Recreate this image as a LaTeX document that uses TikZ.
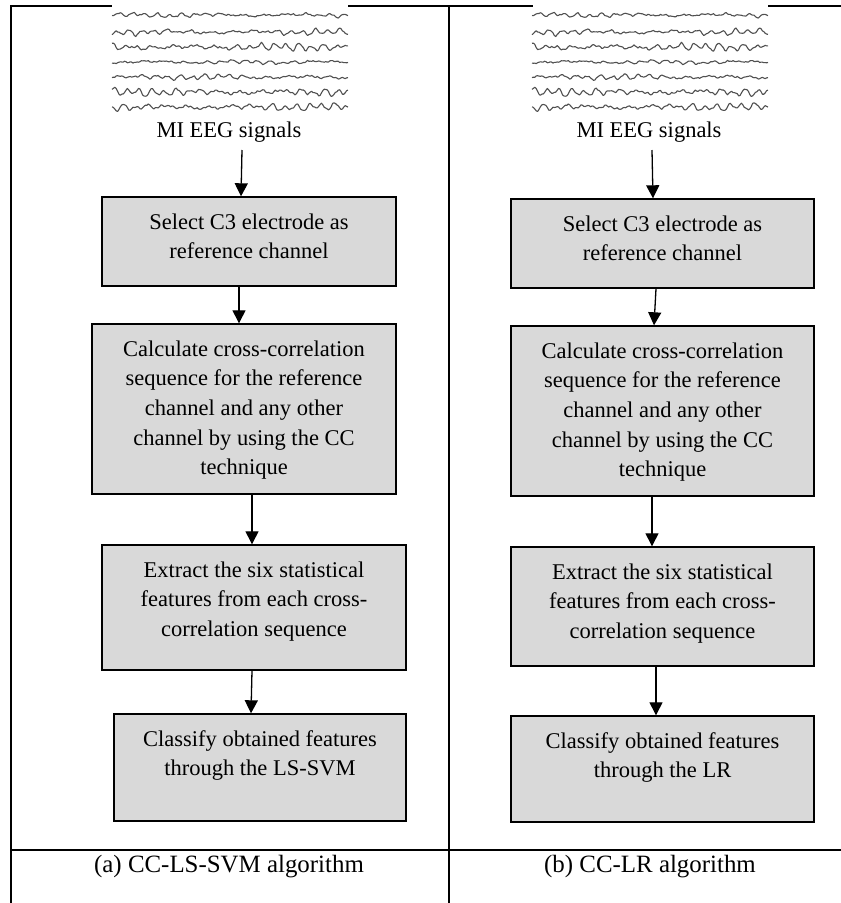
\documentclass[tikz,border=0pt]{standalone}
\usepackage{fontspec}
\setmainfont{Liberation Serif}
\usetikzlibrary{arrows.meta}
\definecolor{boxgray}{HTML}{D9D9D9}
\definecolor{eegcol}{HTML}{505050}
\newcommand{\boxtext}[3]{\parbox[c][#2pt][t]{#1pt}{\centering\rule{0pt}{32pt}#3\par}}
\newcommand{\eegblock}[1]{%
  \pgfmathsetseed{4242}%
  \foreach \yy/\aa/\pa/\pb/\pc in {15/1.6/10/40/200, 32/2.2/80/130/20, 47/2.8/150/250/300, 62/1.4/220/10/90, 77/2.0/300/90/160, 92/3.0/40/200/260, 107/2.7/120/300/60}{%
    \draw[eegline] plot[smooth, tension=0.55, domain=0:236, samples=170, variable=\t]
      ({#1+\t},{\yy + \aa*((0.55+0.5*sin(1.7*\t+\pa))*sin(29*\t+\pb) + 0.45*sin(17*\t+\pc) + 0.25*sin(61*\t+\pa)) + 0.7*sin(4.3*\t+\pc) + 0.45*rand});
  }%
}
\tikzset{
  box/.style={draw=black, fill=boxgray, line width=1.4pt, inner sep=0pt,
    font=\fontsize{22.5}{29.7}\selectfont},
  lbl/.style={inner sep=0pt, font=\fontsize{22.5}{27}\selectfont},
  captext/.style={inner sep=0pt, font=\fontsize{24.9}{30}\selectfont},
  arr/.style={line width=1.3pt, -{Triangle[width=13pt,length=13pt]}},
  eegline/.style={draw=eegcol, line width=1.1pt, line join=round},
  thickrule/.style={line width=2.3pt},
  thinrule/.style={line width=1.2pt}
}
\begin{document}
\begin{tikzpicture}[x=1pt, y=-1pt]
\useasboundingbox (0,0) rectangle (841,903);
% table rules
\draw[thickrule] (10,6.3) -- (112,6.3);
\draw[thickrule] (348,6.3) -- (533,6.3);
\draw[thickrule] (768,6.3) -- (841,6.3);
\draw[thinrule] (11,5.2) -- (11,903);
\draw[thinrule] (449,5.2) -- (449,903);
\draw[line width=2.2pt] (10.4,850) -- (841,850);
% EEG pictures
\eegblock{112}
\eegblock{532}
% labels
\node[lbl, anchor=base] (sa) at (229,137) {MI EEG signals};
\node[lbl, anchor=base] (sb) at (649,137) {MI EEG signals};
\coordinate (sA) at (242,150);
\coordinate (sB) at (652,150);
% left column
\node[box] (a1) at (249,241.5) {\boxtext{294}{89}{Select C3 electrode as\\reference channel}};
\node[box] (a2) at (244,409) {\boxtext{304}{170}{Calculate cross-correlation\\sequence for the reference\\channel and any other\\channel by using the CC\\technique}};
\node[box] (a3) at (254,607.5) {\boxtext{304}{125}{Extract the six statistical\\features from each cross-\\correlation sequence}};
\node[box] (a4) at (260,767.5) {\boxtext{292}{107}{Classify obtained features\\through the LS-SVM}};
% right column
\node[box] (b1) at (662.5,243.5) {\boxtext{303}{89}{Select C3 electrode as\\reference channel}};
\node[box] (b2) at (662.5,411) {\boxtext{303}{170}{Calculate cross-correlation\\sequence for the reference\\channel and any other\\channel by using the CC\\technique}};
\node[box] (b3) at (662.5,606.5) {\boxtext{303}{119}{Extract the six statistical\\features from each cross-\\correlation sequence}};
\node[box] (b4) at (662.5,769) {\boxtext{303}{106}{Classify obtained features\\through the LR}};
% arrows
\draw[arr] (sA) -- ([xshift=-8pt]a1.north);
\draw[arr] ([xshift=-10pt]a1.south) -- ([xshift=-5pt]a2.north);
\draw[arr] ([xshift=8pt]a2.south) -- ([xshift=-2pt]a3.north);
\draw[arr] ([xshift=-2pt]a3.south) -- ([xshift=-9pt]a4.north);
\draw[arr] (sB) -- ([xshift=-9.5pt]b1.north);
\draw[arr] ([xshift=-6.5pt]b1.south) -- ([xshift=-8.5pt]b2.north);
\draw[arr] ([xshift=-10.5pt]b2.south) -- ([xshift=-10.5pt]b3.north);
\draw[arr] ([xshift=-6.5pt]b3.south) -- ([xshift=-6.5pt]b4.north);
% captions
\node[captext, anchor=base] (ca) at (229,872) {(a) CC-LS-SVM algorithm};
\node[captext, anchor=base] (cb) at (650,872) {(b) CC-LR algorithm};
\end{tikzpicture}
\end{document}
